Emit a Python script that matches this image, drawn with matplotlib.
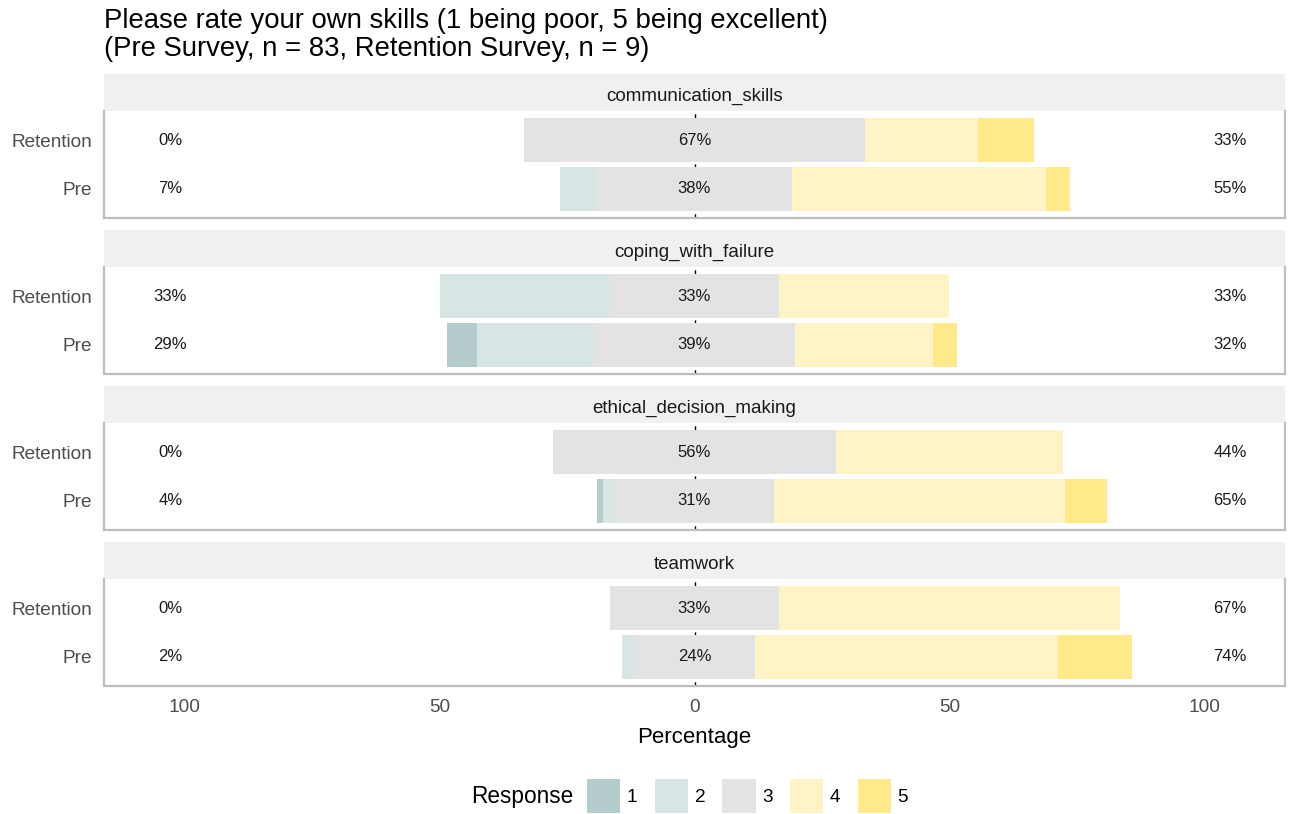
import numpy as np
import matplotlib
matplotlib.use("Agg")
import matplotlib.pyplot as plt
from matplotlib.patches import Patch

plt.rcParams['font.family'] = ['Liberation Sans', 'DejaVu Sans']

# Data: percentage of answers per response level (1..5)
items = ["communication_skills", "coping_with_failure",
         "ethical_decision_making", "teamwork"]
groups = ["Retention", "Pre"]
levels = ["1", "2", "3", "4", "5"]

comm_retention = [0.0, 0.0, 66.7, 22.2, 11.1]
comm_pre = [0.0, 7.2, 38.2, 49.9, 4.7]
coping_retention = [0.0, 33.3, 33.3, 33.3, 0.0]
coping_pre = [5.9, 23.0, 39.4, 27.0, 4.7]
ethical_retention = [0.0, 0.0, 55.6, 44.4, 0.0]
ethical_pre = [1.2, 2.4, 31.0, 57.2, 8.2]
team_retention = [0.0, 0.0, 33.3, 66.7, 0.0]
team_pre = [0.0, 2.4, 23.8, 59.4, 14.4]

data = {
    "communication_skills": [comm_retention, comm_pre],
    "coping_with_failure": [coping_retention, coping_pre],
    "ethical_decision_making": [ethical_retention, ethical_pre],
    "teamwork": [team_retention, team_pre],
}

colors = ["#B4CDCC", "#D7E5E4", "#E3E3E3", "#FFF4C6", "#FFEA8A"]

W, H = 1290, 814
fig = plt.figure(figsize=(W / 100, H / 100), dpi=100)


def px_axes(x0, y0, x1, y1):
    return fig.add_axes([x0 / W, 1 - y1 / H, (x1 - x0) / W, (y1 - y0) / H])


X0, X1 = 104, 1285
STRIP_H, PLOT_H, GAP = 37, 107, 12
top = 74
axes = []
for k, item in enumerate(items):
    s = px_axes(X0, top, X1, top + STRIP_H)
    s.set_facecolor("#F0F0F0")
    for sp in s.spines.values():
        sp.set_visible(False)
    s.set_xticks([])
    s.set_yticks([])
    s.text(0.5, 0.40, item, ha="center", va="center", fontsize=13.5,
           color="#1A1A1A", transform=s.transAxes)

    ax = px_axes(X0, top + STRIP_H, X1, top + STRIP_H + PLOT_H)
    axes.append(ax)
    ypos = [1, 0]
    for g, vals in enumerate(data[item]):
        vals = np.array(vals)
        y = ypos[g]
        half = vals[2] / 2
        # neutral split in the middle, low answers to the left, high to the right
        left = -half
        ax.barh(y, vals[2], left=-half, height=0.9, color=colors[2], zorder=2)
        for lv in [1, 0]:
            if vals[lv] > 0:
                ax.barh(y, vals[lv], left=left - vals[lv], height=0.9,
                        color=colors[lv], zorder=2)
            left -= vals[lv]
        right = half
        for lv in [3, 4]:
            if vals[lv] > 0:
                ax.barh(y, vals[lv], left=right, height=0.9, color=colors[lv],
                        zorder=2)
            right += vals[lv]
        low = vals[0] + vals[1]
        high = vals[3] + vals[4]
        ax.text(-102.8, y, f"{low:.0f}%", ha="center", va="center",
                fontsize=12, color="#1A1A1A", zorder=3)
        ax.text(0, y, f"{vals[2]:.0f}%", ha="center", va="center",
                fontsize=12, color="#1A1A1A", zorder=3)
        ax.text(105, y, f"{high:.0f}%", ha="center", va="center",
                fontsize=12, color="#1A1A1A", zorder=3)

    ax.axvline(0, color="black", linestyle=(0, (3, 3)), linewidth=1.0, zorder=1)
    ax.set_xlim(-115.8, 115.8)
    ax.set_ylim(-0.6, 1.6)
    ax.set_yticks(ypos)
    ax.set_yticklabels(groups, fontsize=13.7, color="#4D4D4D")
    ax.tick_params(axis="y", length=0, pad=8.5)
    ax.spines["top"].set_visible(False)
    for side in ["left", "bottom", "right"]:
        ax.spines[side].set_color("#BEBEBE")
        ax.spines[side].set_linewidth(1.6)
    ax.set_xticks([-100, -50, 0, 50, 100])
    if k < len(items) - 1:
        ax.set_xticklabels([])
        ax.tick_params(axis="x", length=0)
    else:
        ax.set_xticklabels(["100", "50", "0", "50", "100"], fontsize=13.7,
                           color="#4D4D4D")
        ax.tick_params(axis="x", length=0, pad=9)
        ax.set_xlabel("Percentage", fontsize=16, color="black", labelpad=8)
    top += STRIP_H + PLOT_H + GAP

fig.text(X0 / W, 1 - 8 / H,
         "Please rate your own skills (1 being poor, 5 being excellent)\n"
         "(Pre Survey, n = 83, Retention Survey, n = 9)",
         ha="left", va="top", fontsize=19.8, color="black", linespacing=1.1)

handles = [Patch(facecolor=c, edgecolor="none") for c in colors]
fig.text(573 / W, 1 - 797 / H, "Response", ha="right", va="center",
         fontsize=16.3, color="black")
fig.legend(handles, levels, loc="center left", bbox_to_anchor=(587 / W, 1 - 796 / H),
           ncol=5, frameon=False, fontsize=13.7, handlelength=1.75,
           handleheight=2.37, handletextpad=0.35, columnspacing=0.9,
           borderaxespad=0, borderpad=0)

fig.savefig("out.png", dpi=100, facecolor="white")
